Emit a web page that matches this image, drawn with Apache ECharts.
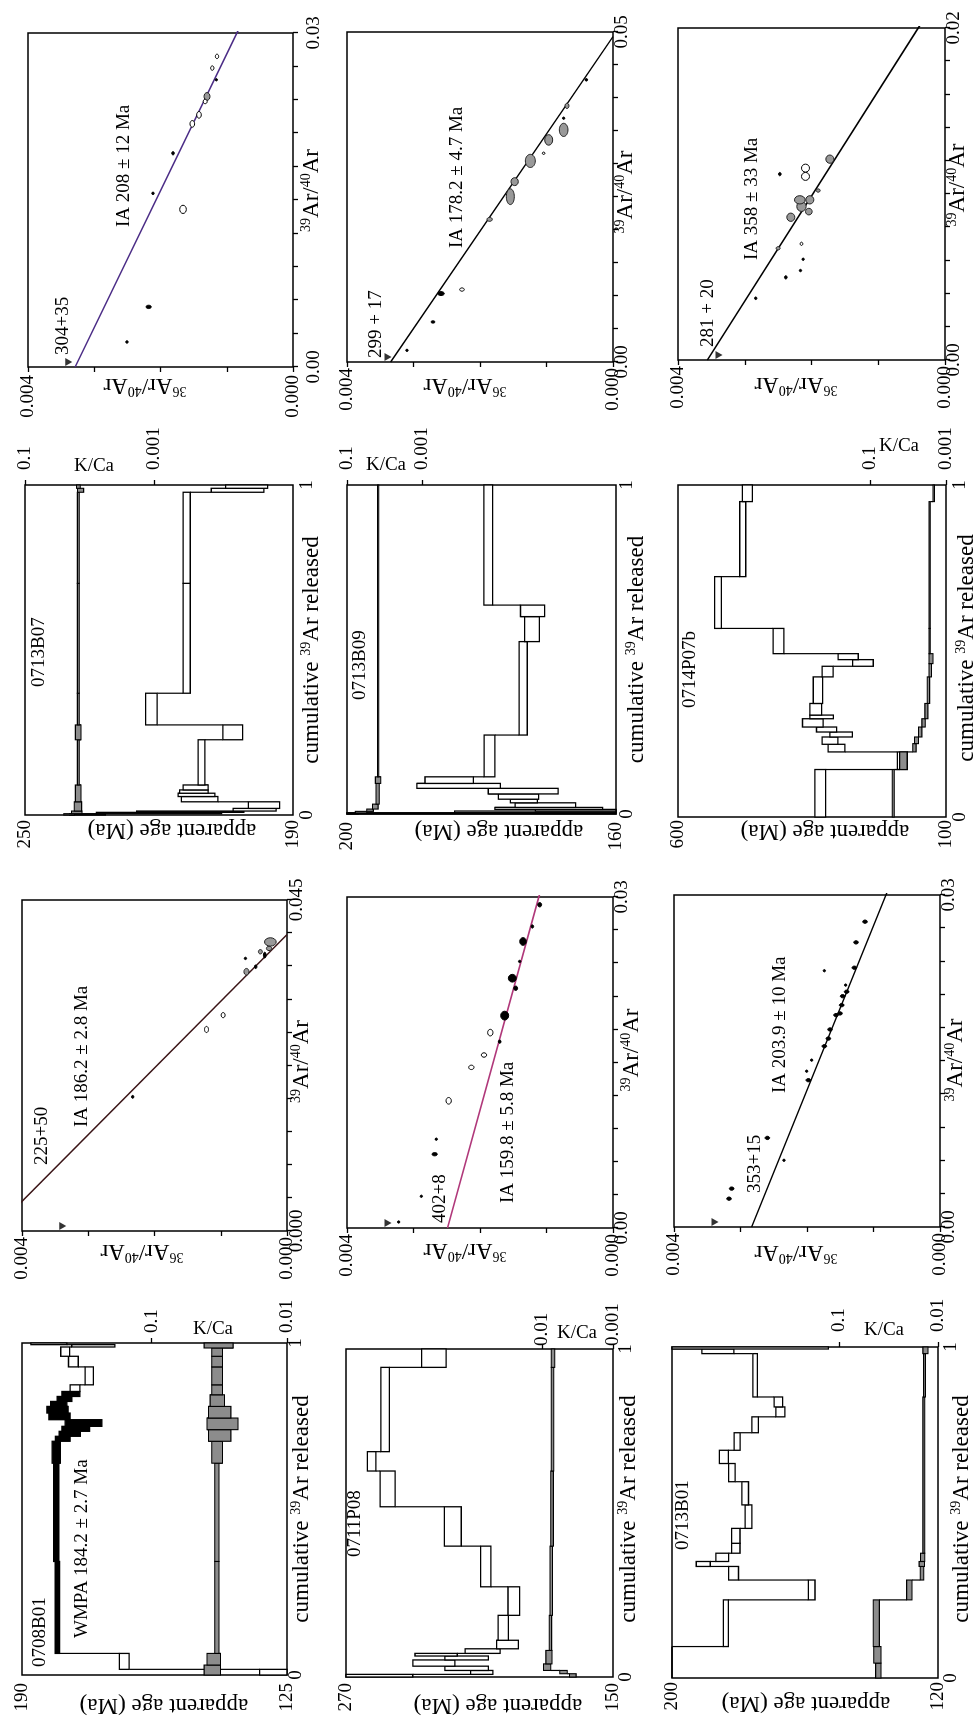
<!DOCTYPE html>
<html>
<head>
<meta charset="utf-8">
<title>40Ar/39Ar age spectra and inverse isochrons</title>
<script src="https://cdn.jsdelivr.net/npm/echarts@6.0.0/dist/echarts.min.js"></script>
<style>
html, body { margin:0; padding:0; width:974px; height:1716px; overflow:hidden; background:#fff; }
#wrap { position:absolute; left:0; top:0; width:1716px; height:974px; transform-origin:0 0; transform:translateY(1716px) rotate(-90deg); }
#chart { width:1716px; height:974px; }
</style>
</head>
<body>
<div id="wrap"><div id="chart"></div></div>
<script>
const FONT = '"Liberation Serif", "Times New Roman", Times, serif';
const ATM = 295.5; // atmospheric 40Ar/36Ar

// ================= DATA =================
// Age spectra steps: [cum 39Ar start, cum 39Ar end, apparent age (Ma), error (Ma)]
// K/Ca steps:        [cum 39Ar start, cum 39Ar end, K/Ca, error]
// Isochron points:   [39Ar/40Ar, 36Ar/40Ar, error x, error y]
// Isochron fit:      [trapped 40Ar/36Ar, 39Ar/40Ar intercept]

// ---- 0708B01
const steps0708B01 = [
  [0.000,0.017,128.0,3.7],[0.017,0.065,164.9,1.2],[0.065,0.342,181.3,0.55],[0.342,0.638,181.6,0.65],
  [0.638,0.704,181.6,1.0],[0.704,0.719,180.0,1.8],[0.719,0.734,178.3,2.6],[0.734,0.749,176.8,3.4],
  [0.749,0.769,174.9,4.5],[0.769,0.789,180.8,2.6],[0.789,0.809,181.3,2.6],[0.809,0.824,181.0,2.0],
  [0.824,0.839,179.6,1.8],[0.839,0.854,178.0,2.2],[0.854,0.874,177.0,1.2],[0.874,0.928,173.5,1.0],
  [0.928,0.960,177.4,1.2],[0.960,0.988,179.4,1.1],[0.988,0.995,172.5,5.3],[0.995,1.000,183.4,4.4]
];
const plateau0708B01 = [2, 13];
const kca0708B01 = [
  [0.000,0.030,0.036,0.005],[0.030,0.065,0.035,0.004],[0.065,0.342,0.033,0.0012],[0.342,0.638,0.033,0.0012],
  [0.638,0.704,0.033,0.003],[0.704,0.739,0.032,0.006],[0.739,0.774,0.031,0.008],[0.774,0.809,0.032,0.006],
  [0.809,0.844,0.033,0.004],[0.844,0.874,0.033,0.003],[0.874,0.928,0.033,0.003],[0.928,0.960,0.033,0.003],
  [0.960,0.985,0.033,0.003],[0.985,1.000,0.033,0.008]
];
const ageAxis0708B01 = [125, 190];
const kcaAxis0708B01 = [0.01, 0.91];
const kcaTicks0708B01 = [0.1, 0.01];
const isoDark0708B01 = [[0.01824,0.002329,0.00020,0.000015],[0.03706,0.000627,0.00015,0.000015],[0.03593,0.000472,0.00025,0.000015],[0.03751,0.000336,0.00040,0.000020]];
const isoGray0708B01 = [[0.03525,0.000612,0.00045,0.000038],[0.03797,0.000402,0.00030,0.000030],[0.03842,0.000271,0.00030,0.000040],[0.03930,0.000251,0.00057,0.000088]];
const isoOpen0708B01 = [[0.02740,0.001215,0.00042,0.000030],[0.02935,0.000964,0.00035,0.000030]];
const isoFit0708B01 = [225, 0.0403];
const isoXAxis0708B01 = [0, 0.045];
const isoXLabels0708B01 = ['0.000', '0.045'];

// ---- 0713B07
const steps0713B07 = [
  [0.000,0.004,236.0,4.0],[0.004,0.008,220.0,14.0],[0.008,0.012,213.0,12.0],[0.012,0.020,198.6,4.8],
  [0.020,0.040,196.5,3.5],[0.040,0.056,210.9,4.1],[0.056,0.066,211.6,4.1],[0.066,0.076,212.2,3.2],
  [0.076,0.091,211.8,2.8],[0.091,0.228,210.5,0.75],[0.228,0.273,203.5,2.2],[0.273,0.369,221.7,1.3],
  [0.369,0.702,213.8,0.8],[0.702,0.978,213.8,0.8],[0.978,0.990,202.4,5.9],[0.990,1.000,200.4,4.7]
];
const plateau0713B07 = null;
const kca0713B07 = [
  [0.000,0.004,0.021,0.004],[0.004,0.012,0.016,0.003],[0.012,0.040,0.0152,0.002],[0.040,0.091,0.0150,0.0015],
  [0.091,0.228,0.0149,0.0005],[0.228,0.273,0.0150,0.0015],[0.273,0.369,0.0149,0.0005],[0.369,0.702,0.0149,0.0005],
  [0.702,0.978,0.0149,0.0005],[0.978,0.990,0.0138,0.0015],[0.990,1.000,0.0149,0.001]
];
const ageAxis0713B07 = [190, 250];
const kcaAxis0713B07 = [6.9e-6, 0.1];
const kcaTicks0713B07 = [0.1, 0.001];
const isoDark0713B07 = [[0.00225,0.002506,0.00012,0.000015],[0.00540,0.002179,0.00015,0.000040],[0.01560,0.002113,0.00012,0.000015],[0.01920,0.001811,0.00015,0.000020],[0.02580,0.001157,0.00009,0.000012]];
const isoGray0713B07 = [[0.02430,0.001298,0.00035,0.000045]];
const isoOpen0713B07 = [[0.01416,0.001660,0.00037,0.000050],[0.02184,0.001520,0.00030,0.000035],[0.02265,0.001419,0.00030,0.000035],[0.02385,0.001325,0.00020,0.000030],[0.02685,0.001218,0.00020,0.000025],[0.02790,0.001147,0.00020,0.000025]];
const isoFit0713B07 = [304, 0.0404];
const isoXAxis0713B07 = [0, 0.03];
const isoXLabels0713B07 = ['0.00', '0.03'];

// ---- 0711P08
const steps0711P08 = [
  [0.000,0.008,255.0,15.0],[0.008,0.020,209.0,5.0],[0.020,0.033,215.8,9.8],[0.033,0.052,230.5,9.4],
  [0.052,0.064,215.8,9.8],[0.064,0.072,229.5,9.5],[0.072,0.086,208.6,7.9],[0.086,0.112,197.4,4.9],
  [0.112,0.188,199.3,2.3],[0.188,0.275,194.6,2.6],[0.275,0.399,207.2,2.3],[0.399,0.519,222.0,3.8],
  [0.519,0.628,251.3,3.4],[0.628,0.687,258.5,1.9],[0.687,0.944,252.4,1.9],[0.944,1.000,230.5,5.5]
];
const plateau0711P08 = null;
const kca0711P08 = [
  [0.000,0.010,0.0037,0.0004],[0.010,0.020,0.0050,0.0006],[0.020,0.040,0.0085,0.001],[0.040,0.081,0.0080,0.0008],
  [0.081,0.188,0.0076,0.0003],[0.188,0.399,0.0074,0.0003],[0.399,0.628,0.0072,0.0003],[0.628,0.944,0.0071,0.0003],
  [0.944,1.000,0.0070,0.0004]
];
const ageAxis0711P08 = [150, 270];
const kcaAxis0711P08 = [0.001, 5.7];
const kcaTicks0711P08 = [0.01, 0.001];
const isoDark0711P08 = [[0.000545,0.003223,0.00010,0.000012],[0.002876,0.002882,0.00010,0.000015],[0.00669,0.002682,0.00015,0.000040],[0.00805,0.002657,0.00010,0.000012],[0.01689,0.001704,0.00015,0.000020],[0.01925,0.001629,0.00040,0.000060],[0.02173,0.001464,0.00020,0.000030],[0.02264,0.001514,0.00035,0.000060],[0.02416,0.001404,0.00010,0.000015],[0.02597,0.001353,0.00035,0.000050],[0.02733,0.001213,0.00015,0.000020],[0.02930,0.001103,0.00020,0.000030]];
const isoGray0711P08 = [];
const isoOpen0711P08 = [[0.01153,0.002471,0.00030,0.000040],[0.01456,0.002130,0.00020,0.000040],[0.01568,0.001940,0.00020,0.000040],[0.01771,0.001845,0.00030,0.000040]];
const isoFit0711P08 = [402, 0.0544];
const isoXAxis0711P08 = [0, 0.03];
const isoXLabels0711P08 = ['0.00', '0.03'];

// ---- 0713B09
const steps0713B09 = [
  [0.000,0.004,178.0,22.0],[0.004,0.009,172.0,12.0],[0.009,0.014,166.0,6.0],[0.014,0.020,170.0,8.0],
  [0.020,0.034,170.5,4.5],[0.034,0.045,173.7,2.0],[0.045,0.061,174.5,3.0],[0.061,0.078,173.8,5.2],
  [0.078,0.093,183.4,6.2],[0.093,0.113,184.8,3.6],[0.113,0.240,178.8,0.8],[0.240,0.524,173.8,0.6],
  [0.524,0.600,172.5,1.1],[0.600,0.635,172.4,1.8],[0.635,1.000,179.0,0.65]
];
const plateau0713B09 = null;
const kca0713B09 = [
  [0.000,0.003,0.100,0.05],[0.003,0.008,0.045,0.015],[0.008,0.015,0.025,0.005],[0.015,0.030,0.018,0.003],
  [0.030,0.093,0.0155,0.0015],[0.093,0.113,0.0152,0.0025],[0.113,1.000,0.0150,0.0006]
];
const ageAxis0713B09 = [160, 200];
const kcaAxis0713B09 = [7.4e-9, 0.1];
const kcaTicks0713B09 = [0.1, 0.001];
const isoDark0713B09 = [[0.00177,0.003098,0.00015,0.000015],[0.00607,0.002707,0.00015,0.000030],[0.01037,0.002586,0.00030,0.000050],[0.03694,0.000742,0.00012,0.000015],[0.04276,0.000401,0.00020,0.000020]];
const isoGray0713B09 = [[0.02161,0.001855,0.00030,0.000040],[0.02505,0.001544,0.00120,0.000060],[0.02733,0.001479,0.00060,0.000055],[0.03047,0.001243,0.00100,0.000075],[0.03365,0.000967,0.00080,0.000060],[0.03517,0.000742,0.00100,0.000065],[0.03881,0.000692,0.00040,0.000030]];
const isoOpen0713B09 = [[0.01098,0.002271,0.00025,0.000035],[0.03163,0.001043,0.00015,0.000020]];
const isoFit0713B09 = [299, 0.0493];
const isoXAxis0713B09 = [0, 0.05];
const isoXLabels0713B09 = ['0.00', '0.05'];

// ---- 0713B01
const steps0713B01 = [
  [0.000,0.095,212.0,12.0],[0.095,0.236,183.8,0.75],[0.236,0.296,158.0,1.0],[0.296,0.337,181.5,1.5],
  [0.337,0.352,190.6,2.1],[0.352,0.377,184.9,1.9],[0.377,0.407,180.8,1.25],[0.407,0.452,180.8,1.25],
  [0.452,0.523,177.0,1.0],[0.523,0.593,178.0,1.0],[0.593,0.648,182.0,1.0],[0.648,0.688,184.4,1.35],
  [0.688,0.741,180.4,0.9],[0.741,0.789,175.0,1.0],[0.789,0.819,167.4,1.35],[0.819,0.849,168.0,1.3],
  [0.849,0.980,175.0,0.7],[0.980,0.994,186.2,4.8],[0.994,1.000,176.5,23.5]
];
const plateau0713B01 = null;
const kca0713B01 = [
  [0.000,0.045,0.0400,0.0025],[0.045,0.095,0.0410,0.0035],[0.095,0.236,0.0420,0.0030],[0.236,0.296,0.0195,0.0012],
  [0.296,0.337,0.0145,0.0006],[0.337,0.352,0.0146,0.0009],[0.352,0.377,0.0143,0.0007],[0.377,0.849,0.0139,0.0003],
  [0.849,0.980,0.0137,0.0003],[0.980,1.000,0.0134,0.0008]
];
const ageAxis0713B01 = [120, 200];
const kcaAxis0713B01 = [0.01, 4.8];
const kcaTicks0713B01 = [0.1, 0.01];
const isoDark0713B01 = [
  [0.00256,0.003173,0.00015,0.000035],[0.00347,0.003133,0.00015,0.000035],[0.00805,0.002596,0.00015,0.000035],[0.01327,0.001980,0.00015,0.000035],
  [0.01634,0.001739,0.00015,0.000035],[0.01703,0.001679,0.00015,0.000035],[0.01785,0.001654,0.00015,0.000035],[0.01915,0.001564,0.00015,0.000035],
  [0.01930,0.001504,0.00015,0.000035],[0.02005,0.001479,0.00015,0.000035],[0.02086,0.001464,0.00015,0.000035],[0.02126,0.001404,0.00015,0.000035],
  [0.02343,0.001288,0.00015,0.000035],[0.02572,0.001263,0.00015,0.000035],[0.02759,0.001128,0.00015,0.000035],
  [0.00603,0.002346,0.00008,0.000012],[0.01408,0.002005,0.00008,0.000012],[0.01508,0.001930,0.00008,0.000012],[0.02186,0.001419,0.00008,0.000012],[0.02316,0.001739,0.00008,0.000012]
];
const isoGray0713B01 = [];
const isoOpen0713B01 = [];
const isoFit0713B01 = [353, 0.04207];
const isoXAxis0713B01 = [0, 0.03];
const isoXLabels0713B01 = ['0.00', '0.03'];

// ---- 0714P07b
const steps0714P07b = [
  [0.000,0.143,334.7,10.0],[0.143,0.196,181.6,9.3],[0.196,0.219,304.2,15.6],[0.219,0.241,316.4,14.6],
  [0.241,0.256,295.5,21.0],[0.256,0.271,322.9,18.7],[0.271,0.296,348.4,19.3],[0.296,0.307,332.0,22.0],
  [0.307,0.342,343.0,11.0],[0.342,0.422,339.0,8.7],[0.422,0.454,320.8,10.3],[0.454,0.474,255.0,19.3],
  [0.474,0.492,282.4,18.7],[0.492,0.568,412.6,10.0],[0.568,0.724,525.3,6.2],[0.724,0.950,479.2,5.6],
  [0.950,1.000,470.5,9.3]
];
const plateau0714P07b = null;
const kca0714P07b = [
  [0.000,0.143,0.0243,0.0015],[0.143,0.196,0.0135,0.003],[0.196,0.221,0.0068,0.0007],[0.221,0.241,0.0060,0.0007],
  [0.241,0.271,0.0048,0.0005],[0.271,0.296,0.0039,0.0004],[0.296,0.342,0.0033,0.0003],[0.342,0.422,0.0029,0.0002],
  [0.422,0.462,0.0026,0.0002],[0.462,0.492,0.0025,0.0003],[0.492,0.568,0.0027,0.0001],[0.568,0.950,0.0027,0.0001],
  [0.950,1.000,0.0021,0.0001]
];
const ageAxis0714P07b = [100, 600];
const kcaAxis0714P07b = [0.001, 1.1e4];
const kcaTicks0714P07b = [0.1, 0.001];
const isoDark0714P07b = [[0.00372,0.002835,0.00008,0.000012],[0.00498,0.002385,0.00010,0.000020],[0.00539,0.002165,0.00006,0.000010],[0.00607,0.002125,0.00006,0.000010],[0.01120,0.002475,0.00010,0.000020]];
const isoGray0714P07b = [[0.00673,0.002500,0.00010,0.000030],[0.00860,0.002310,0.00025,0.000060],[0.00894,0.002040,0.00020,0.000050],[0.00925,0.002150,0.00030,0.000070],[0.00965,0.002175,0.00025,0.000080],[0.00965,0.002025,0.00025,0.000060],[0.01021,0.001900,0.00010,0.000030],[0.01210,0.001725,0.00025,0.000060]];
const isoOpen0714P07b = [[0.00700,0.002150,0.00010,0.000020],[0.01106,0.002090,0.00024,0.000060],[0.01156,0.002090,0.00024,0.000060]];
const isoFit0714P07b = [281, 0.02254];
const isoXAxis0714P07b = [0, 0.02];
const isoXLabels0714P07b = ['0.00', '0.02'];

// Text
const sampleNames = ['0708B01', '0713B07', '0711P08', '0713B09', '0713B01', '0714P07b'];
const plateauText = 'WMPA 184.2 \u00b1 2.7 Ma';
const isoAgeText = ['IA 186.2 \u00b1 2.8 Ma', 'IA 208 \u00b1 12 Ma', 'IA 159.8 \u00b1 5.8 Ma', 'IA 178.2 \u00b1 4.7 Ma', 'IA 203.9 \u00b1 10 Ma', 'IA 358 \u00b1 33 Ma'];
const isoTrapText = ['225+50', '304+35', '402+8', '299 + 17', '353+15', '281 + 20'];

// ================= ASSEMBLY =================
const samples = [
  {steps:steps0708B01, plateau:plateau0708B01, kca:kca0708B01, age:ageAxis0708B01, kr:kcaAxis0708B01, kt:kcaTicks0708B01, dark:isoDark0708B01, gray:isoGray0708B01, open:isoOpen0708B01, fit:isoFit0708B01, ix:isoXAxis0708B01, ixl:isoXLabels0708B01},
  {steps:steps0713B07, plateau:plateau0713B07, kca:kca0713B07, age:ageAxis0713B07, kr:kcaAxis0713B07, kt:kcaTicks0713B07, dark:isoDark0713B07, gray:isoGray0713B07, open:isoOpen0713B07, fit:isoFit0713B07, ix:isoXAxis0713B07, ixl:isoXLabels0713B07},
  {steps:steps0711P08, plateau:plateau0711P08, kca:kca0711P08, age:ageAxis0711P08, kr:kcaAxis0711P08, kt:kcaTicks0711P08, dark:isoDark0711P08, gray:isoGray0711P08, open:isoOpen0711P08, fit:isoFit0711P08, ix:isoXAxis0711P08, ixl:isoXLabels0711P08},
  {steps:steps0713B09, plateau:plateau0713B09, kca:kca0713B09, age:ageAxis0713B09, kr:kcaAxis0713B09, kt:kcaTicks0713B09, dark:isoDark0713B09, gray:isoGray0713B09, open:isoOpen0713B09, fit:isoFit0713B09, ix:isoXAxis0713B09, ixl:isoXLabels0713B09},
  {steps:steps0713B01, plateau:plateau0713B01, kca:kca0713B01, age:ageAxis0713B01, kr:kcaAxis0713B01, kt:kcaTicks0713B01, dark:isoDark0713B01, gray:isoGray0713B01, open:isoOpen0713B01, fit:isoFit0713B01, ix:isoXAxis0713B01, ixl:isoXLabels0713B01},
  {steps:steps0714P07b, plateau:plateau0714P07b, kca:kca0714P07b, age:ageAxis0714P07b, kr:kcaAxis0714P07b, kt:kcaTicks0714P07b, dark:isoDark0714P07b, gray:isoGray0714P07b, open:isoOpen0714P07b, fit:isoFit0714P07b, ix:isoXAxis0714P07b, ixl:isoXLabels0714P07b}
];

// Layout (in the unrotated 1716 x 974 frame); yName = centre of the vertical axis title
const specLayout = [
  {box:[41,22,332,265],  xGap:2,  xPad:[0,0,0,0], yName:[11,164],  xlm:0, ylm:8, klm:10, kName:[387,213],   label:[49,40],    extra:[78,82]},
  {box:[901,25,330,268], xGap:6,  xPad:[0,0,0,0], yName:[886,172], xlm:5, ylm:5, klm:15, kName:[1250,94],  label:[1029,39]},
  {box:[39,346,328,267], xGap:3,  xPad:[0,0,0,8], yName:[11,498],  xlm:4, ylm:6, klm:3,  kName:[383,577],  label:[159,355]},
  {box:[902,347,329,269],xGap:8,  xPad:[0,0,0,0], yName:[885,499], xlm:2, ylm:8, klm:15, kName:[1251,386], label:[1016,360]},
  {box:[38,672,331,266], xGap:11, xPad:[0,0,0,7], yName:[13,806],  xlm:4, ylm:4, klm:15, kName:[386,884],  label:[166,683]},
  {box:[899,678,332,268],xGap:8,  xPad:[0,0,0,6], yName:[885,825], xlm:5, ylm:3, klm:15, kName:[1270,899], label:[1008,690]}
];
const isoLayout = [
  {box:[485,22,331,265],  xGap:2, xPad:[0,0,0,8],  yName:[465,142],  xlm:1,  ylm:6, color:'#3a1416', trap:[551,42],  ia:[589,82]},
  {box:[1349,28,334,265], xGap:6, xPad:[0,0,0,19], yName:[1331,145], xlm:12, ylm:8, color:'#4b2c86', trap:[1361,63], ia:[1489,124]},
  {box:[488,347,331,266], xGap:6, xPad:[0,0,0,25], yName:[466,465],  xlm:0,  ylm:6, color:'#b0387a', trap:[493,440], ia:[513,508]},
  {box:[1354,347,330,266],xGap:0, xPad:[0,0,0,10], yName:[1331,465], xlm:0,  ylm:6, color:'#000',    trap:[1358,376],ia:[1468,457]},
  {box:[489,674,332,266], xGap:3, xPad:[0,0,0,2],  yName:[464,796],  xlm:0,  ylm:6, color:'#000',    trap:[523,755], ia:[623,780]},
  {box:[1356,678,332,267],xGap:0, xPad:[0,0,0,18], yName:[1332,796], xlm:0,  ylm:6, color:'#000',    trap:[1369,708],ia:[1456,752]}
];

const grid = [], xAxis = [], yAxis = [], series = [], graphic = [];

function addGrid(b) {
  grid.push({left:b[0], top:b[1], width:b[2], height:b[3], show:true, borderColor:'#000', borderWidth:1.5,
             backgroundColor:'rgba(0,0,0,0)', containLabel:false, outerBoundsMode:'none'});
  return grid.length - 1;
}
function lblStyle(margin, extra) {
  return Object.assign({fontFamily:FONT, fontSize:19, color:'#000', margin:margin}, extra || {});
}
const RICH = {a:{fontFamily:FONT, fontSize:23, color:'#000', lineHeight:26},
              s:{fontFamily:FONT, fontSize:14, color:'#000', lineHeight:16, verticalAlign:'top'}};
function nameStyle(pad) {
  return {fontFamily:FONT, fontSize:23, color:'#000', padding:pad, rich:RICH};
}
const noLine = {show:false}, noSplit = {show:false};

// rows -> [c0, c1, low, high, mid]
function toBand(rows, fn) {
  return rows.map(r => [r[0], r[1], fn(r[2] - r[3]), fn(r[2] + r[3]), fn(r[2])]);
}
// vertical connectors between consecutive steps
function joins(b) {
  const out = [];
  for (let i = 0; i < b.length - 1; i++) {
    const p = b[i], q = b[i + 1];
    out.push(q[4] >= p[4] ? [p[1], p[3], q[2]] : [p[1], p[2], q[3]]);
  }
  return out;
}
function bandItem(fill, plateau, lw) {
  return function (params, api) {
    const cs = params.coordSys;
    const a = api.coord([api.value(0), api.value(3)]);
    const b = api.coord([api.value(1), api.value(2)]);
    const r = echarts.graphic.clipRectByRect(
      {x:a[0], y:a[1], width:b[0] - a[0], height:b[1] - a[1]},
      {x:cs.x, y:cs.y, width:cs.width, height:cs.height});
    if (!r) return null;
    const inP = plateau && params.dataIndex >= plateau[0] && params.dataIndex <= plateau[1];
    return {type:'rect', shape:r, style:{fill: inP ? '#000' : fill, stroke:'#000', lineWidth:lw}};
  };
}
function joinItem(params, api) {
  const cs = params.coordSys;
  const p1 = api.coord([api.value(0), api.value(1)]);
  const p2 = api.coord([api.value(0), api.value(2)]);
  const cl = y => Math.min(Math.max(y, cs.y), cs.y + cs.height);
  return {type:'line', shape:{x1:p1[0], y1:cl(p1[1]), x2:p2[0], y2:cl(p2[1])}, style:{stroke:'#000', lineWidth:1.2}};
}
function ellItem(fill, stroke) {
  return function (params, api) {
    const c = api.coord([api.value(0), api.value(1)]);
    const s = api.size([api.value(2), api.value(3)]);
    return {type:'ellipse', shape:{cx:c[0], cy:c[1], rx:Math.max(s[0], 1.2), ry:Math.max(s[1], 1.2)},
            style:{fill:fill, stroke:stroke, lineWidth:1}};
  };
}
function textEl(t, x, y, rot, align, size, rich) {
  const st = {text:t, fill:'#000', font:(size || 19) + 'px ' + FONT, textAlign:align || 'left', textVerticalAlign:'middle',
              align:align || 'left', verticalAlign:'middle'};
  if (rich) st.rich = rich;
  return {type:'text', x:x, y:y, rotation:rot || 0, silent:true, style:st};
}

samples.forEach((s, i) => {
  // ---------- age spectrum ----------
  const L = specLayout[i];
  const g = addGrid(L.box);
  const xi = xAxis.length;
  xAxis.push({gridIndex:g, type:'value', min:0, max:1, interval:1, axisLine:noLine, axisTick:{show:false}, splitLine:noSplit,
    axisLabel:lblStyle(L.xlm),
    name:'{a|cumulative }{s|39}{a|Ar released}', nameLocation:'middle', nameGap:L.xGap, nameTextStyle:nameStyle(L.xPad), nameMoveOverlap:false});
  const yi = yAxis.length;
  yAxis.push({gridIndex:g, type:'value', position:'left', min:s.age[0], max:s.age[1], axisLine:noLine, axisTick:{show:false}, splitLine:noSplit,
    axisLabel:lblStyle(L.ylm, {customValues:[s.age[0], s.age[1]], formatter: v => (v === s.age[0] || v === s.age[1]) ? String(v) : ''})});
  const ki = yAxis.length;
  const kTicks = s.kt.map(v => Math.log10(v));
  yAxis.push({gridIndex:g, type:'value', position:'right', min:Math.log10(s.kr[0]), max:Math.log10(s.kr[1]), axisLine:noLine, splitLine:noSplit,
    axisTick:{show:true, inside:false, length:5, customValues:kTicks, lineStyle:{color:'#000', width:1.3}},
    axisLabel:lblStyle(L.klm, {customValues:kTicks, formatter: v => String(+Math.pow(10, v).toPrecision(1))})});

  const ageBand = toBand(s.steps, v => v);
  const kBand = toBand(s.kca, v => Math.log10(v));
  series.push({type:'custom', xAxisIndex:xi, yAxisIndex:yi, data:joins(ageBand), renderItem:joinItem, encode:{x:0, y:[1,2]}, z:2, silent:true});
  series.push({type:'custom', xAxisIndex:xi, yAxisIndex:yi, data:ageBand, renderItem:bandItem('#fff', s.plateau, 1.3), encode:{x:[0,1], y:[2,3]}, z:3, silent:true});
  series.push({type:'custom', xAxisIndex:xi, yAxisIndex:ki, data:joins(kBand), renderItem:joinItem, encode:{x:0, y:[1,2]}, z:4, silent:true});
  series.push({type:'custom', xAxisIndex:xi, yAxisIndex:ki, data:kBand, renderItem:bandItem('#8c8c8c', null, 1.1), encode:{x:[0,1], y:[2,3]}, z:5, silent:true});

  graphic.push(textEl(sampleNames[i], L.label[0], L.label[1]));
  graphic.push(textEl('K/Ca', L.kName[0], L.kName[1], -Math.PI / 2, 'center'));
  graphic.push(textEl('apparent age (Ma)', L.yName[0], L.yName[1], Math.PI / 2, 'center', 23));
  if (L.extra) graphic.push(textEl(plateauText, L.extra[0], L.extra[1]));

  // ---------- inverse isochron ----------
  const M = isoLayout[i];
  const g2 = addGrid(M.box);
  const xj = xAxis.length;
  const xTicks = [];
  for (let k = 0; k <= 10; k++) xTicks.push(s.ix[0] + (s.ix[1] - s.ix[0]) * k / 10);
  xAxis.push({gridIndex:g2, type:'value', min:s.ix[0], max:s.ix[1], interval:(s.ix[1] - s.ix[0]) / 10, axisLine:noLine, splitLine:noSplit,
    axisTick:{show:true, inside:false, length:5, customValues:xTicks, lineStyle:{color:'#000', width:1.3}},
    axisLabel:lblStyle(M.xlm, {customValues:[s.ix[0], s.ix[1]], formatter: v => Math.abs(v - s.ix[0]) < 1e-12 ? s.ixl[0] : (Math.abs(v - s.ix[1]) < 1e-12 ? s.ixl[1] : '')}),
    name:'{s|39}{a|Ar/}{s|40}{a|Ar}', nameLocation:'middle', nameGap:M.xGap, nameTextStyle:nameStyle(M.xPad), nameMoveOverlap:false});
  const yj = yAxis.length;
  yAxis.push({gridIndex:g2, type:'value', position:'left', min:0, max:0.004, interval:0.001, axisLine:noLine, splitLine:noSplit,
    axisTick:{show:true, inside:false, length:5, customValues:[0, 0.001, 0.002, 0.003, 0.004], lineStyle:{color:'#000', width:1.3}},
    axisLabel:lblStyle(M.ylm, {customValues:[0, 0.004], formatter: v => (v === 0 || v === 0.004) ? v.toFixed(3) : ''})});

  series.push({type:'line', xAxisIndex:xj, yAxisIndex:yj, data:[[0, 1 / s.fit[0]], [s.fit[1], 0]], symbol:'none', showSymbol:false,
    lineStyle:{color:M.color, width:1.5}, clip:true, z:3, silent:true});
  series.push({type:'custom', xAxisIndex:xj, yAxisIndex:yj, data:s.gray, renderItem:ellItem('#999', '#222'), encode:{x:0, y:1}, z:4, silent:true});
  series.push({type:'custom', xAxisIndex:xj, yAxisIndex:yj, data:s.open, renderItem:ellItem('#fff', '#000'), encode:{x:0, y:1}, z:4, silent:true});
  series.push({type:'custom', xAxisIndex:xj, yAxisIndex:yj, data:s.dark, renderItem:ellItem('#000', '#000'), encode:{x:0, y:1}, z:5, silent:true});
  series.push({type:'scatter', xAxisIndex:xj, yAxisIndex:yj, data:[[0, 1 / ATM]], symbol:'triangle', symbolRotate:180,
    symbolSize:[8, 7], symbolOffset:[5, 0], itemStyle:{color:'#000'}, clip:false, z:6, silent:true});

  graphic.push(textEl(isoTrapText[i], M.trap[0], M.trap[1]));
  graphic.push(textEl(isoAgeText[i], M.ia[0], M.ia[1]));
  graphic.push(textEl('{s|36}{a|Ar/}{s|40}{a|Ar}', M.yName[0], M.yName[1], Math.PI / 2, 'center', 23, RICH));
});

const chart = echarts.init(document.getElementById('chart'), null, {renderer:'canvas', width:1716, height:974});
chart.setOption({
  animation:false,
  backgroundColor:'#fff',
  grid:grid, xAxis:xAxis, yAxis:yAxis, series:series,
  graphic:{elements:graphic}
});
</script>
</body>
</html>
